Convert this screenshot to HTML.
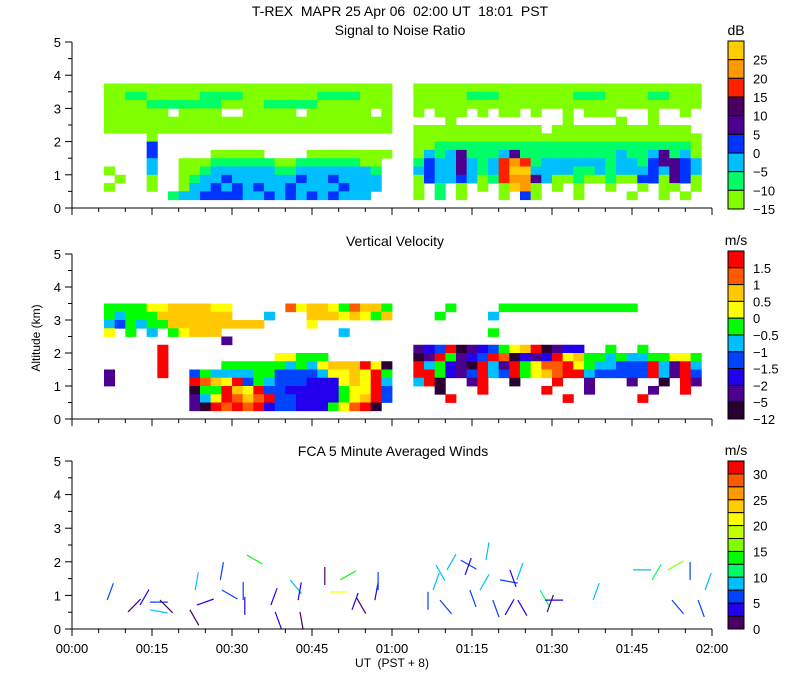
<!DOCTYPE html>
<html><head><meta charset="utf-8"><style>
html,body{margin:0;padding:0;background:#fff;}
svg{display:block;font-family:"Liberation Sans",sans-serif;}
text{white-space:pre;}
</style></head><body>
<svg id="chart" width="800" height="700" viewBox="0 0 800 700">
<text x="400" y="16" text-anchor="middle" font-size="14">T-REX  MAPR 25 Apr 06  02:00 UT  18:01  PST</text>
<text x="400" y="35" text-anchor="middle" font-size="14">Signal to Noise Ratio</text>
<text x="395" y="246" text-anchor="middle" font-size="14">Vertical Velocity</text>
<text x="393" y="456" text-anchor="middle" font-size="14">FCA 5 Minute Averaged Winds</text>
<text x="392" y="667" text-anchor="middle" font-size="12">UT  (PST + 8)</text>
<text transform="translate(40,338) rotate(-90)" text-anchor="middle" font-size="12">Altitude (km)</text>
<g id="layer"></g>
</svg>
<script>
const NS="http://www.w3.org/2000/svg";
const xTickLabels=["00:00","00:15","00:30","00:45","01:00","01:15","01:30","01:45","02:00"];
const yTickLabels=["0","1","2","3","4","5"];
const snrColors=["#80ff00","#00ff66","#00bfff","#0033ff","#4b0090","#4a0060","#ff2000","#ff9900","#ffcc00"];
const snrLabels=["25","20","15","10","5","0","\u22125","\u221210","\u221215"];
const velColors=["#2a0033","#4b0090","#2200ee","#0044ff","#00bfff","#00ff00","#ffff00","#ffc800","#ff5a00","#ff0000"];
const velLabels=["1.5","1","0.5","0","\u22120.5","\u22121","\u22121.5","\u22122","\u22125","\u221212"];
const windColors=["#4a0060","#2200ee","#0044ff","#00bfff","#00ff66","#00ff00","#80ff00","#bfff00","#ffff00","#ffcc00","#ff9900","#ff5a00","#ff0000"];
const windLabels=["30","","25","","20","","15","","10","","5","","0"];
// SNR grid: rows top (3.5-3.75 km) down in 0.25 km steps; left (00:06-01:00) and right (01:04-01:58), 2 min per char
const snrLeft=[
"000000000000000000000000000",
"001100000111100000001111000",
"000011111110000111110000000",
"000000.0000..00000.000000.0",
"000000000000000000000000000",
"000000000000000000000000000",
"....0......................",
"....3......................",
"....3.....00000....00000000",
"....2..0001111110011111100.",
"0...2..0012222221122222221.",
".0..0..0122322222232232222.",
"0...0..0223232322322223222.",
"......1223333223232323222.."];
const snrRight=[
"000000000000000000000000000",
"000001110000000111000011000",
"000000000000000000000000000",
"0.000.0.00.0..0.000...0..0.",
"...0..........0....0..0....",
"000000000000.0000000000000.",
"000000000000000000000000000",
"001111111111111111111111110",
"021241112411111111121124120",
"132242126761222222122134432",
"232242126882222112122232432",
"032232016774200100100330430",
"0.1.0.0.0870.0.0..0..0.00.0",
"0.1.0...0.30...0....0..0.0."];
// velocity grid: rows top (3.25-3.5 km) down
const velLeft=[
"555566777766.....8677658775",
"545557777777...4...77767657",
"435455777777777....6.......",
"6.5.4.56777...........4....",
"...........1...............",
".....9.....................",
".....9..........66555......",
".....9.....5555554546777960",
"1....9..3544445533334667695",
"1.......9876935433322267694",
"........0559769332222256693",
"........1469878933222256793",
"........109898923322256890."];
const velRight=[
"...5....5555555555555......",
"..5....4...................",
"...........................",
".......5...................",
"...........................",
"1239012356790122..5..5.....",
"019512398021296755454455665",
"945210941956889654433394194",
"995213943956789943333394193",
"490..19..0...9..1...1..0.91",
"..0...9.....9...1.....1..9.",
"...9..........9......9.....",
"..........................."];
// winds: time (min UT), altitude (km), speed (m/s), direction of stick (deg clockwise from up)
const windTime=[6.6,12.75,10.5,14.6,16.5,14.6,23.1,23.4,22.1,27.8,28.1,32.1,32.4,32.8,37.3,38.1,40.9,42.4,42.75,47.4,48.4,50.3,52.5,53.4,56.8,57.4,66.75,67.7,68.25,69,70.3,72.9,73.7,74.6,76.5,77.6,78.9,80.25,81.2,82.1,83.4,83.6,87.75,88.7,89.1,97.7,105.2,108.75,111.75,112.5,115.9,117.4,118.7];
const windAlt=[0.86,0.71,0.51,0.80,0.86,0.57,1.16,0.71,0.57,1.46,1.16,0.86,0.42,2.2,0.71,0.51,1.46,0.86,0.51,1.31,1.10,1.46,0.57,0.92,0.86,1.16,0.57,1.16,1.9,0.86,1.76,2.05,1.61,1.16,1.16,2.05,0.86,1.46,0.42,1.76,1.46,0.86,1.16,0.86,0.51,0.86,1.76,1.46,1.76,0.86,1.46,0.86,1.16];
const windSpeed=[5,4,0,6,1,8.5,8.5,3,0,6,5,5,4,13,4,3,8.5,4,0,1,20,13,4,1,3,6,6,8.5,8.5,5,8.5,5,4,6,9,8.5,5,6,4,4,9,3,12,3,1,9,8,11,17,5,5,6,8.5];
const windDir=[20,30,45,90,135,100,10,70,150,10,120,0,0,120,20,160,140,10,170,0,90,60,20,150,10,0,0,20,150,140,30,120,20,160,30,10,160,100,30,160,20,150,150,90,20,20,90,30,60,140,0,160,20];

const g=document.getElementById('layer');
function el(tag,attrs,parent){const e=document.createElementNS(NS,tag);for(const k in attrs)e.setAttribute(k,attrs[k]);(parent||g).appendChild(e);return e;}
const X0=72,X1=712;
const xScale=m=>X0+(m/120)*(X1-X0);
const panels=[{top:42,bot:208,name:'snr'},{top:254,bot:419,name:'velocity'},{top:461,bot:629,name:'winds'}];
function yScale(p,a){return p.bot-(a/5)*(p.bot-p.top);}

function drawGrid(p,left,right,colors,topAlt){
  const grp=el('g',{});
  
  
  const segs=[[left,6],[right,64]];
  segs.forEach(([rows,startMin])=>{
    rows.forEach((row,ri)=>{
      const aTop=topAlt-ri*0.25, aBot=aTop-0.25;
      for(let c=0;c<27;c++){
        const ch=row[c]; if(!ch||ch==='.')continue;
        const x0=xScale(startMin+c*2), x1=xScale(startMin+c*2+2);
        const r=el('rect',{x:x0.toFixed(2),y:yScale(p,aTop).toFixed(2),width:(x1-x0+0.4).toFixed(2),height:(yScale(p,aBot)-yScale(p,aTop)+0.4).toFixed(2),fill:colors[+ch]},grp);
        
        
      }
    });
  });
}
drawGrid(panels[0],snrLeft,snrRight,snrColors,3.75);
drawGrid(panels[1],velLeft,velRight,velColors,3.5);

// winds
const wg=el('g',{});


windTime.forEach((t,i)=>{
  const p=panels[2];
  const x=xScale(t), y=yScale(p,windAlt[i]);
  const ang=windDir[i]*Math.PI/180, L=18;
  const ci=Math.min(12,Math.floor(windSpeed[i]/2.5));
  const ln=el('line',{x1:x.toFixed(1),y1:y.toFixed(1),x2:(x+L*Math.sin(ang)).toFixed(1),y2:(y-L*Math.cos(ang)).toFixed(1),stroke:windColors[ci],'stroke-width':1.2},wg);
  
  
});

// axes
panels.forEach((p,pi)=>{
  const ag=el('g',{stroke:'#000','stroke-width':1,fill:'none'});
  
  
  el('line',{x1:X0,y1:p.top,x2:X0,y2:p.bot},ag);
  el('line',{x1:X0,y1:p.bot,x2:X1,y2:p.bot},ag);
  for(let k=0;k<=10;k++){
    const y=yScale(p,k*0.5);
    el('line',{x1:X0-(k%2===0?7:4),y1:y,x2:X0,y2:y},ag);
  }
  for(let m=0;m<=120;m+=5){
    const x=xScale(m);
    el('line',{x1:x,y1:p.bot,x2:x,y2:p.bot+(m%15===0?7:4)},ag);
  }
  yTickLabels.forEach((lab,k)=>{
    const t=el('text',{x:X0-11,y:yScale(p,k)+5,'text-anchor':'end','font-size':13});
    t.textContent=lab;
    
    
  });
  if(pi===2){
    xTickLabels.forEach((lab,k)=>{
      const t=el('text',{x:xScale(k*15),y:p.bot+24,'text-anchor':'middle','font-size':13});
      t.textContent=lab;
      
      
    });
  }
});

// colorbars
function colorbar(top,bot,colors,labels,unit,name){
  const cg=el('g',{});
  
  
  const n=colors.length,h=(bot-top)/n;
  for(let i=0;i<n;i++){
    const r=el('rect',{x:728,y:(top+i*h).toFixed(2),width:16,height:h.toFixed(2),fill:colors[n-1-i],stroke:'#000','stroke-width':1},cg);
    
    
  }
  labels.forEach((lab,i)=>{
    if(!lab)return;
    const t=el('text',{x:753,y:(top+(i+1)*h+5).toFixed(1),'font-size':13},cg);
    t.textContent=lab;
    
    
  });
  const u=el('text',{x:736,y:top-6,'text-anchor':'middle','font-size':14},cg);
  u.textContent=unit;
  
  
}
colorbar(41,209,snrColors,snrLabels,'dB','snr-colorbar');
colorbar(251,419,velColors,velLabels,'m/s','velocity-colorbar');
colorbar(461,629,windColors,windLabels,'m/s','winds-colorbar');
</script>
</body></html>
